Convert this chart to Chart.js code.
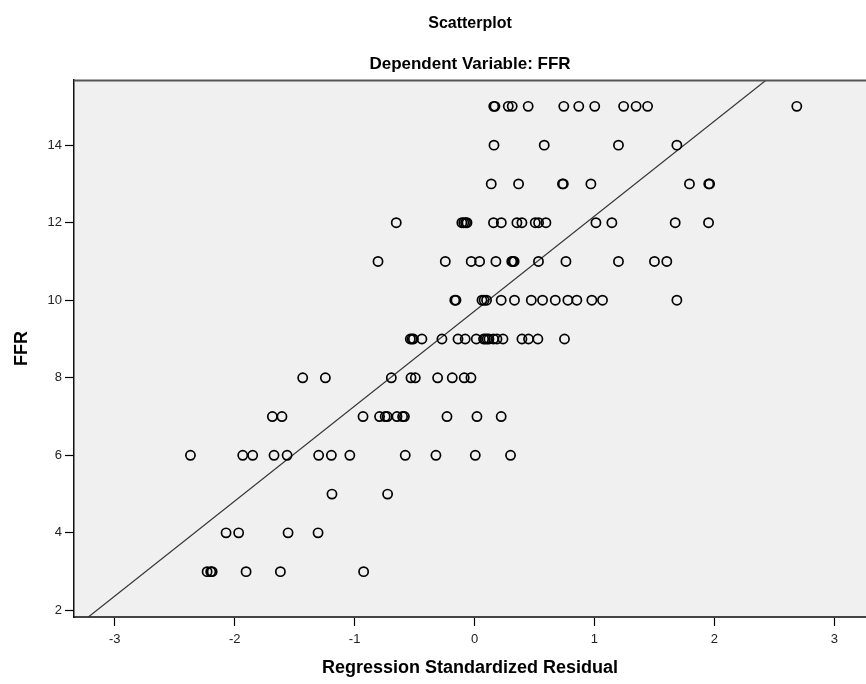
<!DOCTYPE html>
<html>
<head>
<meta charset="utf-8">
<script src="https://cdn.jsdelivr.net/npm/chart.js@4/dist/chart.umd.min.js"></script>
<style>
  html, body { margin: 0; padding: 0; background: #fff; }
  #wrap { width: 866px; height: 684px; }
</style>
</head>
<body>
<div id="wrap"><canvas id="chart" width="866" height="684"></canvas></div>
<script>
// Regression standardized residuals, one array per FFR value
const res15 = [0.16, 0.17, 0.281, 0.314, 0.447, 0.744, 0.869, 1.002, 1.243, 1.347, 1.443, 2.687];
const res14 = [0.162, 0.581, 1.2, 1.687];
const res13 = [0.139, 0.367, 0.733, 0.74, 0.97, 1.792, 1.953, 1.96];
const res12 = [-0.653, -0.106, -0.09, -0.075, -0.063, 0.158, 0.223, 0.353, 0.395, 0.506, 0.534, 0.595, 1.012, 1.145, 1.673, 1.951];
const res11 = [-0.805, -0.244, -0.028, 0.042, 0.178, 0.31, 0.32, 0.33, 0.533, 0.762, 1.2, 1.5, 1.603];
const res10 = [-0.165, -0.155, 0.062, 0.08, 0.1, 0.222, 0.333, 0.473, 0.567, 0.673, 0.778, 0.853, 0.978, 1.067, 1.687];
const res9  = [-0.536, -0.522, -0.51, -0.439, -0.272, -0.138, -0.078, 0.014, 0.075, 0.09, 0.105, 0.12, 0.158, 0.187, 0.237, 0.395, 0.45, 0.528, 0.75];
const res8  = [-1.433, -1.244, -0.694, -0.53, -0.494, -0.308, -0.186, -0.086, -0.03];
const res7  = [-1.686, -1.606, -0.93, -0.792, -0.745, -0.728, -0.647, -0.6, -0.585, -0.23, 0.02, 0.222];
const res6  = [-2.369, -1.933, -1.85, -1.672, -1.563, -1.3, -1.194, -1.04, -0.578, -0.322, 0.006, 0.3];
const res5  = [-1.189, -0.725];
const res4  = [-2.072, -1.967, -1.555, -1.305];
const res3  = [-2.23, -2.2, -2.188, -1.905, -1.619, -0.925];

const ffrLevels = [15, 14, 13, 12, 11, 10, 9, 8, 7, 6, 5, 4, 3];
const residRows = [res15, res14, res13, res12, res11, res10, res9, res8, res7, res6, res5, res4, res3];

const xTicks = [-3, -2, -1, 0, 1, 2, 3];
const yTicks = [2, 4, 6, 8, 10, 12, 14];

// fit line
const fitIntercept = 9.72;
const fitSlope = 2.45;

const xMin = -3.34, xMax = 3.264;
const yMin = 1.83, yMax = 15.68;

const points = [];
residRows.forEach((row, i) => row.forEach(r => points.push({ x: r, y: ffrLevels[i] })));

const fitLine = [xMin, xMax].map(x => ({ x, y: fitIntercept + fitSlope * x }));

const FONT = '"Liberation Sans", Arial, sans-serif';

// grey plot background + top frame line
const plotBg = {
  id: 'plotBg',
  beforeDraw(chart) {
    const { ctx, chartArea: a } = chart;
    ctx.save();
    ctx.fillStyle = '#f0f0f0';
    ctx.fillRect(a.left, a.top, a.right - a.left, a.bottom - a.top);
    ctx.restore();
  },
  afterDraw(chart) {
    const { ctx, chartArea: a } = chart;
    ctx.save();
    ctx.strokeStyle = '#555';
    ctx.lineWidth = 2;
    ctx.beginPath();
    ctx.moveTo(a.left, a.top + 0.5);
    ctx.lineTo(a.right, a.top + 0.5);
    ctx.stroke();
    ctx.restore();
  }
};

new Chart(document.getElementById('chart'), {
  type: 'scatter',
  data: {
    datasets: [
      {
        data: points,
        pointStyle: 'circle',
        pointRadius: 4.6,
        pointHoverRadius: 4.6,
        pointBorderWidth: 1.7,
        pointBorderColor: '#000',
        pointBackgroundColor: 'rgba(0,0,0,0)'
      },
      {
        type: 'line',
        data: fitLine,
        borderColor: '#333',
        borderWidth: 1.2,
        pointRadius: 0,
        fill: false
      }
    ]
  },
  options: {
    responsive: false,
    animation: false,
    events: [],
    layout: { padding: 0, autoPadding: false },
    plugins: {
      legend: { display: false },
      tooltip: { enabled: false },
      title: {
        display: true,
        fullSize: false,
        text: 'Scatterplot',
        color: '#000',
        font: { family: FONT, size: 16, weight: 'bold', lineHeight: 1.2 },
        padding: { top: 14, bottom: 20.6 }
      },
      subtitle: {
        display: true,
        fullSize: false,
        text: 'Dependent Variable: FFR',
        color: '#000',
        font: { family: FONT, size: 17, weight: 'bold', lineHeight: 1.2 },
        padding: { top: 0, bottom: 5.8 }
      }
    },
    scales: {
      x: {
        type: 'linear',
        min: xMin, max: xMax,
        afterBuildTicks: s => { s.ticks = xTicks.map(v => ({ value: v })); },
        afterFit: s => { s.height = 67; s.paddingLeft = 0; s.paddingRight = 0; },
        grid: { drawOnChartArea: false, color: '#000', tickLength: 9, tickWidth: 1.2 },
        border: { color: '#444', width: 2 },
        ticks: { color: '#222', padding: 6, font: { family: FONT, size: 13 }, callback: v => v },
        title: {
          display: true,
          text: 'Regression Standardized Residual',
          color: '#000',
          font: { family: FONT, size: 18, weight: 'bold', lineHeight: 1.2 },
          padding: { top: 0, bottom: 5.2 }
        }
      },
      y: {
        type: 'linear',
        min: yMin, max: yMax,
        afterBuildTicks: s => { s.ticks = yTicks.map(v => ({ value: v })); },
        afterFit: s => { s.width = 74; s.paddingTop = 0; s.paddingBottom = 0; },
        grid: { drawOnChartArea: false, color: '#000', tickLength: 9, tickWidth: 1.2 },
        border: { color: '#111', width: 1.5 },
        ticks: { color: '#222', padding: 3, font: { family: FONT, size: 13 }, callback: v => v },
        title: {
          display: true,
          text: 'FFR',
          color: '#000',
          font: { family: FONT, size: 18, weight: 'bold', lineHeight: 1.2 },
          padding: { top: 11, bottom: 0 }
        }
      }
    }
  },
  plugins: [plotBg]
});
</script>
</body>
</html>
